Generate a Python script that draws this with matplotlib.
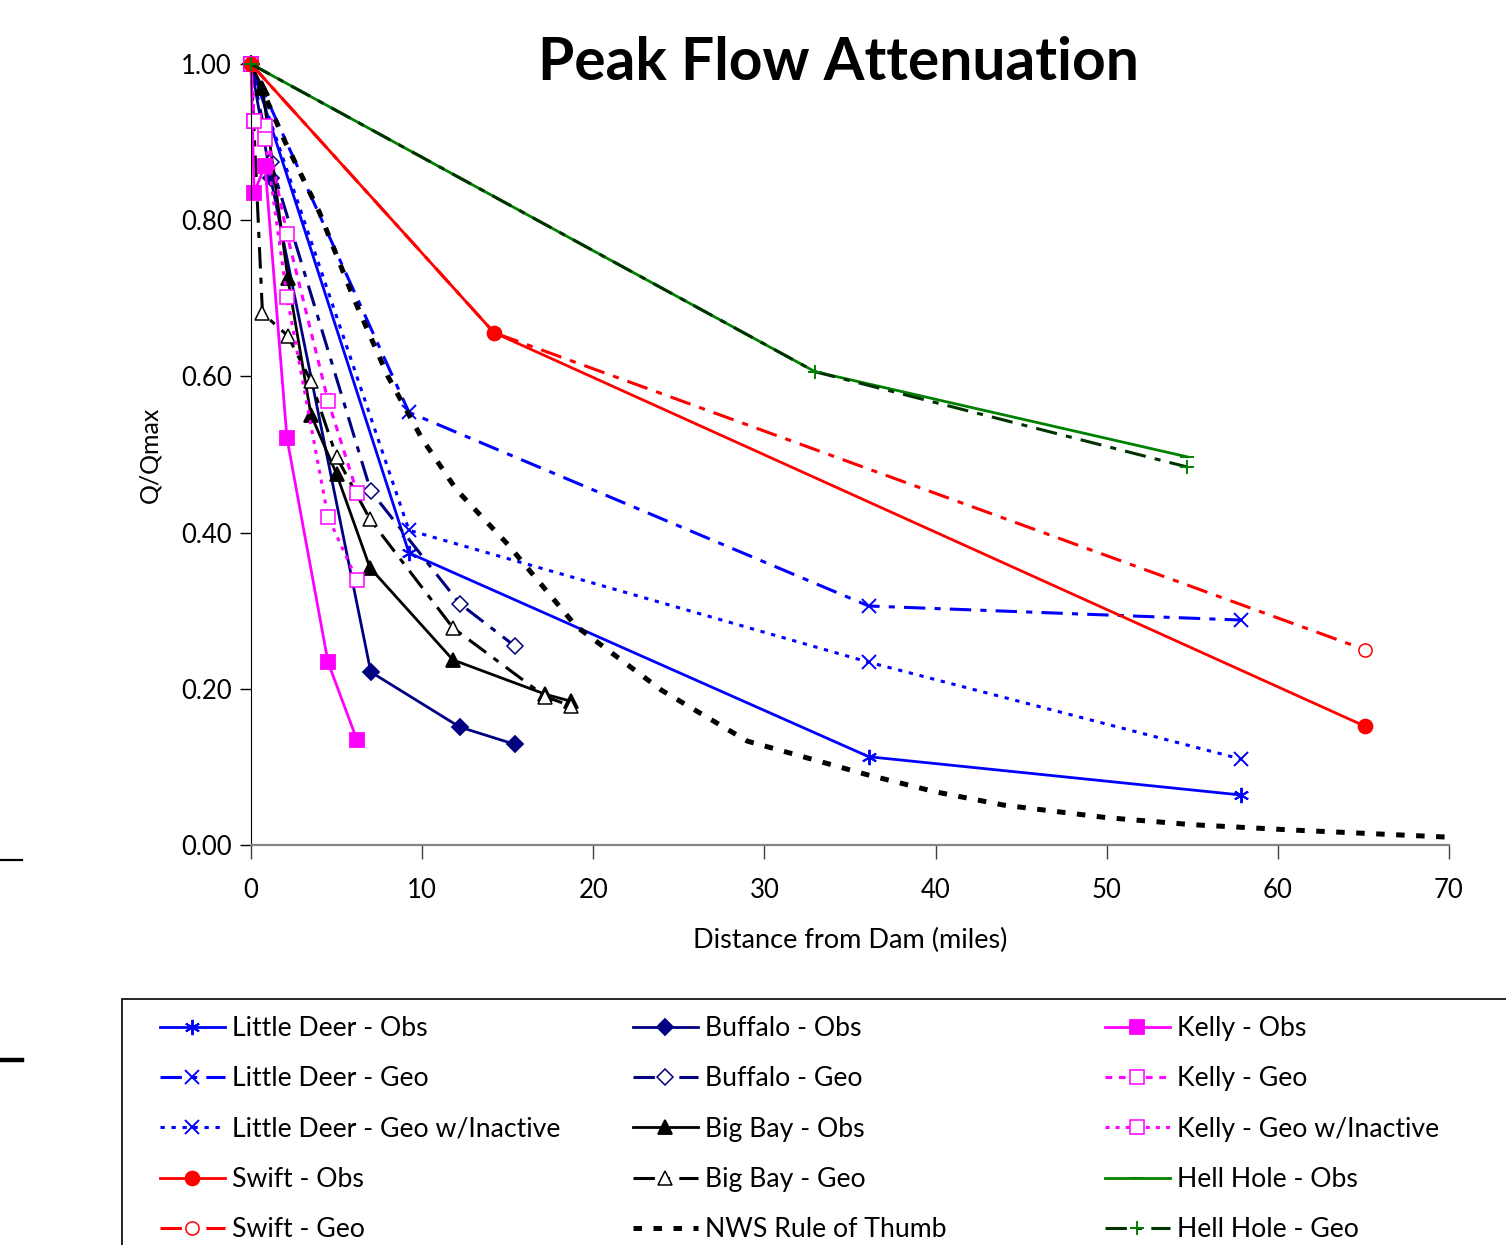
import matplotlib
matplotlib.use('Agg')
from matplotlib import pyplot as plt
from matplotlib.patches import Rectangle
from matplotlib.lines import Line2D

# Little Deer
ld_miles = [0, 9.23, 36.1, 57.85]
ld_obs = [1.0, 0.374, 0.113, 0.064]
ld_geo = [1.0, 0.554, 0.306, 0.288]
ld_geo_inact = [1.0, 0.403, 0.234, 0.110]

# Swift
sw_miles = [0, 14.2, 65.1]
sw_obs = [1.0, 0.656, 0.152]
sw_geo = [1.0, 0.656, 0.250]

# Buffalo
bu_miles = [0, 1.15, 7.0, 12.2, 15.4]
bu_obs = [1.0, 0.854, 0.2215, 0.151, 0.129]
bu_geo = [1.0, 0.875, 0.453, 0.309, 0.255]

# Big Bay
bb_miles = [0, 0.67, 2.15, 3.5, 5.0, 6.95, 11.8, 17.2, 18.7]
bb_obs = [1.0, 0.969, 0.726, 0.551, 0.475, 0.355, 0.237, 0.193, 0.184]
bb_geo = [1.0, 0.681, 0.652, 0.594, 0.497, 0.417, 0.278, 0.19, 0.178]

# NWS rule of thumb
nws_miles = [0, 2, 4, 6, 8, 10, 12, 15, 19, 24, 29, 36, 40, 44, 50, 55, 61, 70]
nws_q = [1.0, 0.90, 0.81, 0.70, 0.60, 0.52, 0.455, 0.385, 0.28, 0.198, 0.133,
         0.090, 0.068, 0.051, 0.035, 0.026, 0.019, 0.010]

# Kelly
ke_miles = [0, 0.18, 0.82, 2.1, 4.5, 6.2]
ke_obs = [1.0, 0.835, 0.87, 0.521, 0.234, 0.134]
ke_geo = [1.0, 0.927, 0.921, 0.782, 0.569, 0.451]
ke_geo_inact = [1.0, 0.927, 0.904, 0.702, 0.420, 0.339]

# Hell Hole
hh_miles = [0, 32.96, 54.7]
hh_obs = [1.0, 0.606, 0.497]
hh_geo = [1.0, 0.606, 0.484]

plt.rcParams['font.family'] = ['Lato', 'DejaVu Sans']

fig = plt.figure(figsize=(15.06, 12.45), dpi=100)
ax = fig.add_axes([0.16667, 0.32129, 0.79548, 0.62731])

LDASH = (7, 3, 2, 3)
BLUE, RED, NAVY, MAG = '#0000ff', '#ff0000', '#000080', '#ff00ff'
GREEN, DGREEN = '#008000', '#003300'
ast = (6, 2, 0)

series = [
    # label, x, y, color, dashes, marker, filled, lw, marker size
    ('Little Deer - Obs', ld_miles, ld_obs, BLUE, None, ast, True, 2, 11),
    ('Little Deer - Geo', ld_miles, ld_geo, BLUE, LDASH, 'x', True, 2.2, 10),
    ('Little Deer - Geo w/Inactive', ld_miles, ld_geo_inact, BLUE, (1.4, 2.2), 'x', True, 2.2, 10),
    ('Swift - Obs', sw_miles, sw_obs, RED, None, 'o', True, 2, 10),
    ('Swift - Geo', sw_miles, sw_geo, RED, LDASH, 'o', False, 2.2, 9.5),
    ('Buffalo - Obs', bu_miles, bu_obs, NAVY, None, 'D', True, 2, 8),
    ('Buffalo - Geo', bu_miles, bu_geo, NAVY, LDASH, 'D', False, 2.2, 8.5),
    ('Big Bay - Obs', bb_miles, bb_obs, 'black', None, '^', True, 2, 10),
    ('Big Bay - Geo', bb_miles, bb_geo, 'black', LDASH, '^', False, 2.2, 10),
    ('NWS Rule of Thumb', nws_miles, nws_q, 'black', (1.7, 2.3), None, True, 3.6, 10),
    ('Kelly - Obs', ke_miles, ke_obs, MAG, None, 's', True, 2, 10),
    ('Kelly - Geo', ke_miles, ke_geo, MAG, (2.2, 2.2), 's', False, 2.2, 10),
    ('Kelly - Geo w/Inactive', ke_miles, ke_geo_inact, MAG, (1.3, 2.0), 's', False, 2.2, 10),
    ('Hell Hole - Obs', hh_miles, hh_obs, GREEN, None, '_', True, 2, 10),
    ('Hell Hole - Geo', hh_miles, hh_geo, DGREEN, LDASH, '+', True, 2.2, 10),
]

handles = []
for label, x, y, c, dashes, mk, filled, lw, ms in series:
    mec = GREEN if label == 'Hell Hole - Geo' else c
    line, = ax.plot(x, y, color=c, lw=lw, marker=mk, markersize=ms,
                    markerfacecolor=(c if filled else 'white'),
                    markeredgecolor=mec, markeredgewidth=1.3 if filled else 1.1,
                    label=label, clip_on=False, dash_capstyle='butt')
    if dashes is not None:
        line.set_dashes(dashes)
    if mk in ('x', '+', '_', ast):
        line.set_markeredgewidth(1.4)
    if label in ('Swift - Obs', 'Hell Hole - Geo', 'Hell Hole - Obs'):
        line.set_zorder(3)
    handles.append(line)

ax.set_xlim(0, 70)
ax.set_ylim(0, 1.0)
ax.set_xticks(range(0, 71, 10))
ax.set_yticks([0, 0.2, 0.4, 0.6, 0.8, 1.0])
ax.set_yticklabels([f'{v:.2f}' for v in [0, 0.2, 0.4, 0.6, 0.8, 1.0]])
ax.tick_params(axis='both', labelsize=18.5, direction='out')
ax.tick_params(axis='y', length=8, width=1, pad=6)
ax.tick_params(axis='x', length=10, width=1, pad=14, color='#404040')
ax.spines['top'].set_visible(False)
ax.spines['right'].set_visible(False)
ax.spines['bottom'].set_color('#868686')
ax.spines['bottom'].set_linewidth(1.6)
ax.set_xlabel('Distance from Dam (miles)', fontsize=19.5, labelpad=18)
ax.set_ylabel('Q/Qmax', fontsize=18, labelpad=14)

fig.text(0.5565, 0.949, 'Peak Flow Attenuation', fontsize=42.2, fontweight='bold',
         ha='center', va='center')

# legend, three columns placed by hand
col_x = [160 / 1506, 633 / 1506, 1105 / 1506]
for i, cx in enumerate(col_x):
    leg = fig.legend(handles=handles[i * 5:(i + 1) * 5], loc='upper left',
                     bbox_to_anchor=(cx, 1 - 1016 / 1245), frameon=False,
                     fontsize=19.2, handlelength=2.43, handletextpad=0.26,
                     labelspacing=0.95, borderpad=0, borderaxespad=0)
fig.add_artist(Rectangle((122 / 1506, -0.1), 1.0, 0.1 + 1 - 999 / 1245,
                         transform=fig.transFigure, fill=False,
                         edgecolor='black', lw=1.2))

# stray marks at left edge of the source picture
fig.add_artist(Line2D([0, 22 / 1506], [1 - 860 / 1245] * 2, color='black', lw=1.6,
                      transform=fig.transFigure))
fig.add_artist(Line2D([0, 22 / 1506], [1 - 1060 / 1245] * 2, color='black', lw=3.2,
                      transform=fig.transFigure))

fig.savefig('out.png', dpi=100)
